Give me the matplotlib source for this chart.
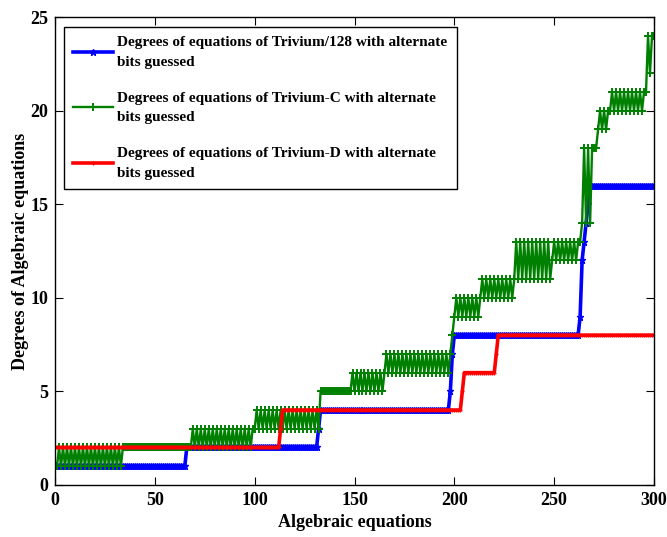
#!/usr/bin/env python3
"""
Degrees of algebraic equations for Trivium variants with alternate bits guessed.
"""
import numpy as np
import matplotlib.pyplot as plt

plt.rcParams["font.family"] = ["Liberation Serif", "DejaVu Serif"]
plt.rcParams["font.weight"] = "bold"

N_EQ = 300

# Step data: each run starts at x = *_start and holds *_lo / *_hi alternately
# (lo == hi means a flat run).
blue_start = [1, 66, 132, 133, 198, 199, 200, 263, 264, 265, 266, 267, 268]
blue_lo = [1, 2, 3, 4, 5, 7, 8, 9, 12, 13, 14, 15, 16]
blue_hi = blue_lo

green_start = [1, 34, 68, 100, 133, 148, 165, 198, 199, 200, 213, 230, 249,
               263, 264, 269, 272, 278, 296, 297, 298, 299]
green_lo = [1, 2, 2, 3, 5, 5, 6, 7, 8, 9, 10, 11, 12,
            13, 14, 18, 19, 20, 21, 24, 22, 24]
green_hi = [2, 2, 3, 4, 5, 6, 7, 7, 8, 10, 11, 13, 13,
            13, 18, 18, 20, 21, 21, 24, 22, 24]

red_start = [1, 113, 114, 204, 205, 221, 222]
red_lo = [2, 3, 4, 5, 6, 7, 8]
red_hi = red_lo

LABELS = [
    "Degrees of equations of Trivium/128 with alternate\nbits guessed",
    "Degrees of equations of Trivium-C with alternate\nbits guessed",
    "Degrees of equations of Trivium-D with alternate\nbits guessed",
]


def expand(starts, lo, hi):
    """Turn run-length step lists into one value per equation."""
    x = np.arange(1, N_EQ + 1)
    y = np.zeros(N_EQ)
    ends = starts[1:] + [N_EQ + 1]
    for s, e, a, b in zip(starts, ends, lo, hi):
        for xi in range(s, e):
            y[xi - 1] = a if (xi - s) % 2 == 0 else b
    return x, y


fig = plt.figure(figsize=(6.67, 5.37), dpi=100)
ax = fig.add_axes([0.0825, 0.097, 0.898, 0.871])

xb, yb = expand(blue_start, blue_lo, blue_hi)
xg, yg = expand(green_start, green_lo, green_hi)
xr, yr = expand(red_start, red_lo, red_hi)

ax.plot(xb, yb, color="#0000ff", marker="*", markersize=4.5, linewidth=2.6,
        label=LABELS[0])
ax.plot(xg, yg, color="#008000", marker="+", markersize=6, linewidth=1.7,
        markeredgewidth=1.4, label=LABELS[1])
ax.plot(xr, yr, color="#ff0000", marker="+", markersize=3.5, linewidth=2.6,
        label=LABELS[2])

ax.set_xlim(0, 300)
ax.set_ylim(0, 25)
ax.set_xticks(np.arange(0, 301, 50))
ax.set_yticks(np.arange(0, 26, 5))
ax.tick_params(direction="in", top=True, right=True, length=6,
               labelsize=13, pad=5)
for lab in ax.get_xticklabels() + ax.get_yticklabels():
    lab.set_fontweight("bold")
for sp in ax.spines.values():
    sp.set_linewidth(1.0)

ax.set_xlabel("Algebraic equations", fontsize=13, fontweight="bold",
              labelpad=4)
ax.set_ylabel("Degrees of Algebraic equations", fontsize=13,
              fontweight="bold", labelpad=1)

leg = ax.legend(loc="upper left", bbox_to_anchor=(0.015, 0.979),
                borderaxespad=0, fancybox=False, edgecolor="black",
                framealpha=1, handlelength=2.6, handletextpad=0.3,
                labelspacing=1.5, borderpad=0.6,
                prop={"size": 11, "weight": "bold"})
leg.get_frame().set_linewidth(1.0)
for t in leg.get_texts():
    t.set_linespacing(1.65)

fig.savefig("out.png", dpi=100)
